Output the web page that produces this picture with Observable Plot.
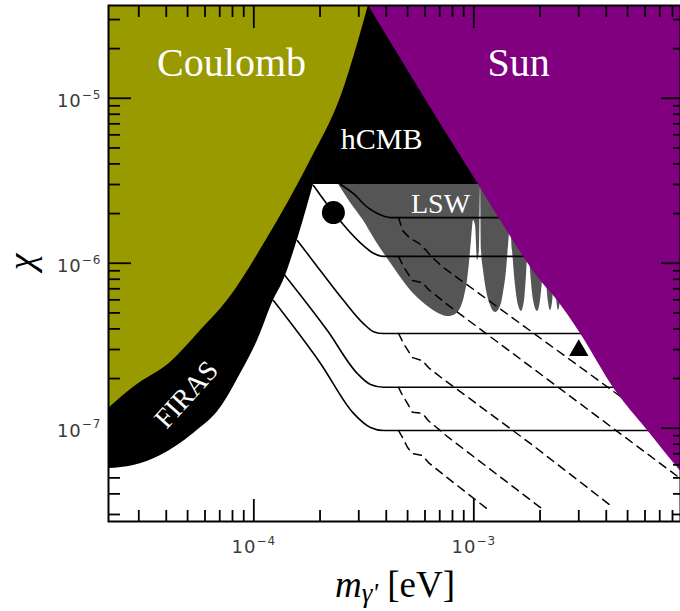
<!DOCTYPE html>
<html>
<head>
<meta charset="utf-8">
<script src="https://cdn.jsdelivr.net/npm/d3@7"></script>
<script src="https://cdn.jsdelivr.net/npm/@observablehq/plot@0.6"></script>
<style>
  html, body { margin: 0; padding: 0; background: white; }
  #chart { width: 680px; height: 611px; }
</style>
</head>
<body>
<div id="chart"></div>
<script>
// ---------- axis ranges & ticks ----------
const xDomain = [2.185e-5, 8.70e-3];
const yDomain = [2.72e-8, 3.65e-5];
const xMajor = [1e-4, 1e-3];
const xMinor = [3e-5, 4e-5, 5e-5, 6e-5, 7e-5, 8e-5, 9e-5,
                2e-4, 3e-4, 4e-4, 5e-4, 6e-4, 7e-4, 8e-4, 9e-4,
                2e-3, 3e-3, 4e-3, 5e-3, 6e-3, 7e-3, 8e-3];
const yMajor = [1e-7, 1e-6, 1e-5];
const yMinor = [3e-8, 4e-8, 5e-8, 6e-8, 7e-8, 8e-8, 9e-8,
                2e-7, 3e-7, 4e-7, 5e-7, 6e-7, 7e-7, 8e-7, 9e-7,
                2e-6, 3e-6, 4e-6, 5e-6, 6e-6, 7e-6, 8e-6, 9e-6,
                2e-5, 3e-5];

// ---------- excluded regions (boundary curves: [m, chi]) ----------
const coulombEdge = [[2.185e-5, 1.315e-7], [2.84e-5, 1.77e-7], [4.18e-5, 2.50e-7], [5.73e-5, 3.91e-7],
                     [7.59e-5, 5.94e-7], [1.15e-4, 1.41e-6], [1.81e-4, 4.19e-6], [2.48e-4, 1.01e-5],
                     [3.32e-4, 3.65e-5]];
const firasEdge = [[2.185e-5, 5.70e-8], [2.84e-5, 5.95e-8], [3.77e-5, 6.84e-8], [5.32e-5, 9.29e-8],
                   [7.06e-5, 1.33e-7], [8.70e-5, 2.14e-7], [1.04e-4, 3.40e-7], [1.228e-4, 5.94e-7],
                   [1.365e-4, 7.85e-7], [1.60e-4, 1.47e-6], [1.867e-4, 3.0e-6]];
const hcmbEdge = [[1.86e-4, 3.0e-6], [8.70e-3, 3.0e-6]];
const sunEdge = [[3.32e-4, 3.65e-5], [8.97e-4, 4.19e-6], [1.05e-3, 3.0e-6], [1.32e-3, 1.82e-6],
                 [2.01e-3, 7.85e-7], [2.40e-3, 5.94e-7], [3.05e-3, 3.75e-7], [4.40e-3, 1.69e-7],
                 [6.16e-3, 9.68e-8], [8.43e-3, 5.78e-8], [8.70e-3, 5.5e-8]];
const lswTop = 3.0e-6;
const lswEdge = [[2.43e-4, 3.0e-6], [2.75e-4, 2.33e-6], [3.15e-4, 1.815e-6], [3.57e-4, 1.373e-6],
                 [4.05e-4, 1.068e-6], [4.55e-4, 8.54e-7], [5.16e-4, 6.83e-7], [5.73e-4, 5.94e-7],
                 [6.36e-4, 5.31e-7], [7.06e-4, 4.89e-7], [7.67e-4, 4.75e-7], [8.26e-4, 4.89e-7],
                 [8.70e-4, 5.31e-7], [9.07e-4, 6.28e-7], [9.36e-4, 7.86e-7], [9.56e-4, 1.01e-6],
                 [9.76e-4, 1.373e-6], [9.97e-4, 1.815e-6], [1.018e-3, 1.69e-6], [1.039e-3, 1.038e-6],
                 [1.061e-3, 1.194e-6], [1.073e-3, 2.92e-6], [1.084e-3, 1.194e-6], [1.107e-3, 9.03e-7],
                 [1.142e-3, 6.83e-7], [1.191e-3, 5.54e-7], [1.255e-3, 5.02e-7], [1.322e-3, 5.46e-7],
                 [1.365e-3, 6.64e-7], [1.408e-3, 9.03e-7], [1.438e-3, 1.28e-6], [1.468e-3, 1.67e-6],
                 [1.499e-3, 1.194e-6], [1.547e-3, 7.32e-7], [1.596e-3, 5.54e-7], [1.647e-3, 5.10e-7],
                 [1.700e-3, 5.94e-7], [1.736e-3, 8.42e-7], [1.773e-3, 1.373e-6], [1.810e-3, 9.03e-7],
                 [1.868e-3, 5.94e-7], [1.948e-3, 5.10e-7], [2.010e-3, 5.94e-7], [2.052e-3, 7.86e-7],
                 [2.096e-3, 1.194e-6], [2.140e-3, 7.86e-7], [2.185e-3, 5.78e-7], [2.231e-3, 5.17e-7],
                 [2.279e-3, 5.78e-7], [2.327e-3, 9.03e-7], [2.351e-3, 1.038e-6], [2.376e-3, 6.28e-7],
                 [2.427e-3, 5.17e-7], [2.478e-3, 5.94e-7], [2.530e-3, 7.86e-7], [2.754e-3, 1.0e-6]];

// ---------- sensitivity curves ----------
const solidA = [[2.48e-4, 3.0e-6], [2.84e-4, 2.64e-6], [3.29e-4, 2.18e-6], [3.65e-4, 2.0e-6], [4.18e-4, 1.89e-6], [1.5e-3, 1.89e-6]];
const solidB = [[1.867e-4, 2.96e-6], [2.30e-4, 2.03e-6], [3.05e-4, 1.33e-6], [3.50e-4, 1.15e-6], [3.89e-4, 1.10e-6], [2.0e-3, 1.10e-6]];
const solidC = [[1.58e-4, 1.37e-6], [1.85e-4, 1.04e-6], [2.56e-4, 5.94e-7], [3.15e-4, 4.31e-7], [3.50e-4, 3.85e-7], [3.89e-4, 3.75e-7], [3.3e-3, 3.75e-7]];
const solidD = [[1.365e-4, 8.65e-7], [2.16e-4, 3.91e-7], [2.96e-4, 2.14e-7], [3.39e-4, 1.84e-7], [3.89e-4, 1.77e-7], [5.0e-3, 1.77e-7]];
const solidE = [[1.228e-4, 5.94e-7], [2.01e-4, 2.47e-7], [2.84e-4, 1.23e-7], [3.39e-4, 1.01e-7], [3.89e-4, 9.68e-8], [7.0e-3, 9.68e-8]];

const dashedA = [[4.55e-4, 1.89e-6], [4.74e-4, 1.58e-6], [5.15e-4, 1.41e-6], [5.60e-4, 1.33e-6], [6.03e-4, 1.21e-6], [6.49e-4, 1.08e-6], [7.28e-4, 9.42e-7], [4.79e-3, 1.51e-7], [6.36e-3, 1.15e-7]];
const dashedB = [[4.55e-4, 1.10e-6], [4.79e-4, 9.55e-7], [5.26e-4, 7.85e-7], [5.84e-4, 7.63e-7], [6.22e-4, 6.93e-7], [7.67e-4, 5.55e-7], [8.70e-3, 4.95e-8]];
const dashedC = [[4.55e-4, 3.75e-7], [4.79e-4, 3.26e-7], [5.26e-4, 2.68e-7], [5.84e-4, 2.57e-7], [6.22e-4, 2.33e-7], [7.21e-4, 2.00e-7], [1.81e-3, 8.07e-8], [4.31e-3, 3.30e-8]];
const dashedD = [[4.55e-4, 1.77e-7], [4.74e-4, 1.58e-7], [5.00e-4, 1.41e-7], [5.26e-4, 1.25e-7], [5.84e-4, 1.23e-7], [6.22e-4, 1.11e-7], [7.67e-4, 8.79e-8], [2.01e-3, 3.30e-8]];
const dashedE = [[4.55e-4, 9.68e-8], [4.74e-4, 8.79e-8], [5.00e-4, 7.64e-8], [5.26e-4, 7.03e-8], [5.84e-4, 6.83e-8], [6.22e-4, 6.19e-8], [7.67e-4, 4.95e-8], [1.19e-3, 3.13e-8]];

// ---------- benchmark markers ----------
const circlePoint = [[2.30e-4, 2.03e-6]];
const trianglePoint = [[3.0e-3, 2.96e-7]];

// ---------- region labels ----------
const bigLabels = [{text: "Coulomb", m: 7.92e-5, chi: 1.64e-5}, {text: "Sun", m: 1.60e-3, chi: 1.64e-5}];
const hcmbLabel = [{text: "hCMB", m: 3.81e-4, chi: 5.66e-6}];
const lswLabel = [{text: "LSW", m: 7.06e-4, chi: 2.30e-6}];
const firasLabel = [{text: "FIRAS", m: 4.94e-5, chi: 1.60e-7}];

// ---------- helpers ----------
const fmtExp = d => String(Math.round(Math.log10(d))).replace("-", "\u2212");
const X = d => d[0], Y = d => d[1];
const TOP = 1e-4;
const serif = "'Liberation Serif', 'Times New Roman', serif";
const tickStyle = {fill: "none", label: null, stroke: "black", strokeWidth: 1.8};
const labelStyle = {tickSize: 0, tickFormat: d => "10|" + fmtExp(d), fontSize: 18, fill: "#3a3a3a", label: null};

const plot = Plot.plot({
  width: 680,
  height: 611,
  marginLeft: 108,
  marginRight: 0,
  marginTop: 5,
  marginBottom: 90,
  x: {type: "log", domain: xDomain},
  y: {type: "log", domain: yDomain},
  style: {background: "white", fontFamily: "'DejaVu Sans', sans-serif"},
  marks: [
    // FIRAS + hCMB (black)
    Plot.areaY(firasEdge, {x: X, y1: Y, y2: TOP, fill: "black", curve: "monotone-x", clip: true}),
    Plot.areaY(hcmbEdge, {x: X, y1: Y, y2: TOP, fill: "black", clip: true}),
    // LSW (grey)
    Plot.areaY(lswEdge, {x: X, y1: Y, y2: lswTop, fill: "#555555", curve: "monotone-x", clip: true}),
    // Coulomb (olive)
    Plot.areaY(coulombEdge, {x: X, y1: Y, y2: TOP, fill: "#999900", curve: "monotone-x", clip: true}),
    // solid sensitivity curves
    ...[solidA, solidB, solidC, solidD, solidE].map(s =>
      Plot.line(s, {x: X, y: Y, stroke: "black", strokeWidth: 1.6, curve: "monotone-x", clip: true})),
    // dashed curves
    ...[dashedA, dashedB, dashedC, dashedD, dashedE].map(s =>
      Plot.line(s, {x: X, y: Y, stroke: "black", strokeWidth: 1.5, strokeDasharray: "8,6", clip: true})),
    // Sun (purple)
    Plot.areaY(sunEdge, {x: X, y1: Y, y2: TOP, fill: "#800080", curve: "monotone-x", clip: true}),
    // markers
    Plot.dot(circlePoint, {x: X, y: Y, r: 11.5, fill: "black"}),
    Plot.dot(trianglePoint, {x: X, y: Y, r: 7.2, symbol: "triangle", fill: "black"}),
    // region labels
    Plot.text(bigLabels, {x: "m", y: "chi", text: "text", fill: "white", fontSize: 40, fontFamily: serif}),
    Plot.text(hcmbLabel, {x: "m", y: "chi", text: "text", fill: "white", fontSize: 30, fontFamily: serif}),
    Plot.text(lswLabel, {x: "m", y: "chi", text: "text", fill: "white", fontSize: 28, fontFamily: serif}),
    Plot.text(firasLabel, {x: "m", y: "chi", text: "text", fill: "white", fontSize: 28, fontFamily: serif, rotate: -48}),
    // frame
    Plot.frame({stroke: "black", strokeWidth: 2}),
    // inward ticks
    Plot.axisX(xMajor, {anchor: "bottom", tickSize: 22, dy: -22, ...tickStyle}),
    Plot.axisX(xMinor, {anchor: "bottom", tickSize: 11, dy: -11, ...tickStyle}),
    Plot.axisX(xMajor, {anchor: "top", tickSize: 22, dy: 22, ...tickStyle}),
    Plot.axisX(xMinor, {anchor: "top", tickSize: 11, dy: 11, ...tickStyle}),
    Plot.axisY(yMajor, {anchor: "left", tickSize: 23, dx: 23, ...tickStyle}),
    Plot.axisY(yMinor, {anchor: "left", tickSize: 12, dx: 12, ...tickStyle}),
    Plot.axisY(yMajor, {anchor: "right", tickSize: 20, dx: -20, ...tickStyle}),
    Plot.axisY(yMinor, {anchor: "right", tickSize: 8, dx: -8, ...tickStyle}),
    // tick labels
    Plot.axisX(xMajor, {anchor: "bottom", tickPadding: 19, ...labelStyle}),
    Plot.axisY(yMajor, {anchor: "left", tickPadding: 7, dy: 3, ...labelStyle})
  ]
});

const svg = d3.select(plot);
// render tick labels as 10 with a raised exponent
svg.selectAll("text").each(function () {
  const t = d3.select(this);
  if (!this.querySelector("tspan") && /^10\|/.test(this.textContent)) {
    const exp = this.textContent.split("|")[1];
    t.text(null).attr("letter-spacing", 1);
    t.append("tspan").text("10");
    t.append("tspan").attr("font-size", 12).attr("dy", -8.5).text(exp);
  }
});
// y-axis label
svg.append("text")
  .attr("transform", "translate(34,262) rotate(-90)")
  .attr("text-anchor", "middle")
  .attr("font-family", serif)
  .attr("font-style", "italic")
  .attr("font-size", 38)
  .attr("fill", "black")
  .text("\u03C7");
// x-axis label
const xl = svg.append("text")
  .attr("x", 395).attr("y", 597)
  .attr("text-anchor", "middle")
  .attr("font-family", serif)
  .attr("font-size", 37)
  .attr("fill", "black");
xl.append("tspan").attr("font-style", "italic").text("m");
xl.append("tspan").attr("font-style", "italic").attr("font-size", 27).attr("dy", 5).text("\u03B3'");
xl.append("tspan").attr("dy", -5).text(" [eV]");

document.getElementById("chart").appendChild(plot);
</script>
</body>
</html>
